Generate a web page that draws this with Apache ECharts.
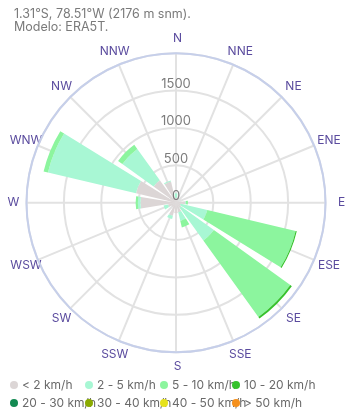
<!DOCTYPE html>
<html>
<head>
<meta charset="utf-8">
<style>
  html, body { margin: 0; padding: 0; background: #ffffff; }
  #chart { width: 346px; height: 413px; }
</style>
<script src="https://cdn.jsdelivr.net/npm/echarts@6/dist/echarts.min.js"></script>
</head>
<body>
<div id="chart"></div>
<script>
// Wind directions, clockwise from north
const directions = ['N', 'NNE', 'NE', 'ENE', 'E', 'ESE', 'SE', 'SSE', 'S', 'SSW', 'SW', 'WSW', 'W', 'WNW', 'NW', 'NNW'];

// Speed classes
const speedClasses = ['< 2 km/h', '2 - 5 km/h', '5 - 10 km/h', '10 - 20 km/h', '20 - 30 km/h', '30 - 40 km/h', '40 - 50 km/h', '> 50 km/h'];
const speedColors = ['#dcd6d6', '#a8f7d4', '#8cf59e', '#36c22c', '#138a52', '#8aaa00', '#e6e21c', '#f5901c'];

// Frequency per direction for each speed class
const below2 = [65, 45, 30, 40, 125, 65, 85, 130, 140, 180, 70, 110, 475, 550, 370, 290];
const from2to5 = [60, 0, 0, 0, 10, 365, 540, 120, 0, 45, 0, 60, 35, 1210, 515, 15];
const from5to10 = [0, 0, 0, 0, 25, 1215, 1260, 90, 0, 0, 0, 0, 30, 60, 70, 0];
const from10to20 = [0, 0, 0, 0, 0, 15, 25, 0, 0, 0, 0, 0, 0, 0, 0, 0];
const from20to30 = [0, 0, 0, 0, 0, 0, 0, 0, 0, 0, 0, 0, 0, 0, 0, 0];
const from30to40 = [0, 0, 0, 0, 0, 0, 0, 0, 0, 0, 0, 0, 0, 0, 0, 0];
const from40to50 = [0, 0, 0, 0, 0, 0, 0, 0, 0, 0, 0, 0, 0, 0, 0, 0];
const above50 = [0, 0, 0, 0, 0, 0, 0, 0, 0, 0, 0, 0, 0, 0, 0, 0];

// Radial scale
const radiusMax = 2000;
const radiusStep = 500;

const classData = [below2, from2to5, from5to10, from10to20, from20to30, from30to40, from40to50, above50];

const FONT = 'Inter';
const center = [176, 202.7];
const radius = 149.5;
const labelColor = '#5a4b9e';

// Legend laid out as two rows of four
const legendCols = [10, 85, 160, 232];
const legendRows = [379, 397];

// ECharts anchors each direction name by an edge of its box; sizing the box
// per direction puts the centre of every name a fixed distance past the rim
// (plus a small nudge to the right).
const labelOffset = 14.5;
const labelShiftX = 1.5;
const dirRich = {};
directions.forEach((d, i) => {
  const a = (90 - i * 360 / directions.length) * Math.PI / 180;
  const cosA = Math.cos(a);
  const c = Math.abs(cosA);
  const s = Math.abs(Math.sin(a));
  const style = { fontFamily: FONT, fontSize: 12, color: labelColor, align: 'center' };
  if (c < 0.3) {
    style.width = 30;
    style.padding = [0, 0, 0, 2 * labelShiftX];
  } else {
    style.width = 2 * (labelOffset * c + (cosA > 0 ? labelShiftX : -labelShiftX));
  }
  style.height = s < 0.3 ? 14 : 2 * labelOffset * s;
  style.lineHeight = style.height;
  dirRich['d' + i] = style;
});

const chart = echarts.init(document.getElementById('chart'), null, { renderer: 'canvas' });

// Polar 0 carries the bars and direction names, polar 1 the grid (spokes,
// rings, rim), polar 2 only the radial value labels, drawn above the bars.
const option = {
  animation: false,
  backgroundColor: '#ffffff',
  textStyle: { fontFamily: FONT },
  title: {
    text: '1.31°S, 78.51°W (2176 m snm).\nModelo: ERA5T.',
    left: 9,
    top: 3,
    textStyle: { fontFamily: FONT, fontSize: 12.5, fontWeight: 'normal', color: '#7a7a7a', lineHeight: 13 }
  },
  legend: speedClasses.map((name, i) => ({
    data: [name],
    left: legendCols[i % 4],
    top: legendRows[Math.floor(i / 4)],
    icon: 'circle',
    itemWidth: 8,
    itemHeight: 8,
    padding: 0,
    selectedMode: false,
    textStyle: { fontFamily: FONT, fontSize: 12, color: '#6a6a6a', padding: [0, 0, 0, -1] }
  })),
  polar: [
    { center: center, radius: radius },
    { center: center, radius: radius },
    { center: center, radius: radius }
  ],
  angleAxis: [
    {
      polarIndex: 0,
      type: 'category',
      data: directions,
      startAngle: 90 + 360 / directions.length / 2,
      clockwise: true,
      axisLine: { show: false },
      axisTick: { show: false },
      splitLine: { show: false },
      axisLabel: {
        margin: 0,
        formatter: (name, idx) => '{d' + idx + '|' + name + '}',
        rich: dirRich
      }
    },
    {
      polarIndex: 1,
      type: 'value',
      min: 0,
      max: 360,
      interval: 22.5,
      startAngle: 90,
      z: 1,
      axisLine: { show: true, lineStyle: { color: '#c6cfea', width: 2 } },
      axisTick: { show: false },
      axisLabel: { show: false },
      splitLine: { show: true, lineStyle: { color: '#e2e2e2', width: 2 } }
    },
    {
      polarIndex: 2,
      type: 'value',
      min: 0,
      max: 360,
      startAngle: 90,
      show: false
    }
  ],
  radiusAxis: [
    {
      polarIndex: 0,
      type: 'value',
      min: 0,
      max: radiusMax,
      show: false
    },
    {
      polarIndex: 1,
      type: 'value',
      min: 0,
      max: radiusMax,
      interval: radiusStep,
      z: 0,
      axisLine: { show: false },
      axisTick: { show: false },
      axisLabel: { show: false },
      splitLine: { show: true, lineStyle: { color: '#e2e2e2', width: 2 } }
    },
    {
      polarIndex: 2,
      type: 'value',
      min: 0,
      max: radiusMax,
      interval: radiusStep,
      z: 5,
      axisLine: { show: false },
      axisTick: { show: false },
      splitLine: { show: false },
      axisLabel: {
        fontFamily: FONT,
        fontSize: 13,
        color: '#7c7c7c',
        margin: 0,
        align: 'center',
        verticalAlign: 'bottom',
        showMaxLabel: false,
        formatter: (v) => String(v)
      }
    }
  ],
  series: speedClasses.map((name, i) => ({
    name: name,
    type: 'bar',
    coordinateSystem: 'polar',
    polarIndex: 0,
    stack: 'wind',
    barCategoryGap: '18%',
    z: 2,
    itemStyle: { color: speedColors[i] },
    data: classData[i]
  }))
};

chart.setOption(option);
</script>
</body>
</html>
